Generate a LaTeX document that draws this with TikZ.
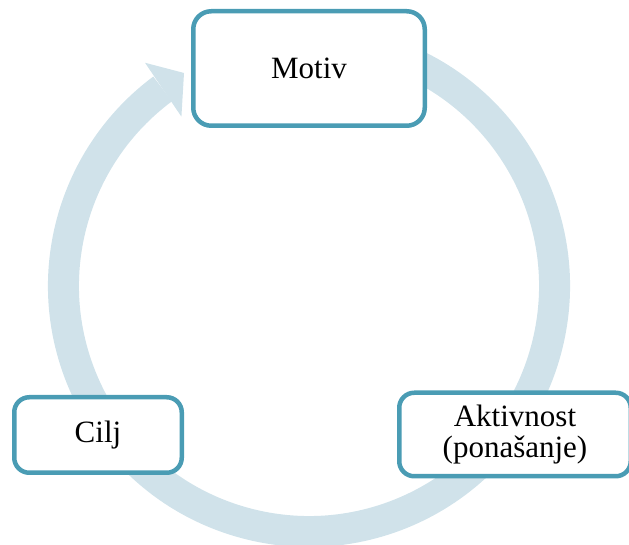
\documentclass[tikz,border=0pt]{standalone}
\usepackage{fontspec}
\setmainfont{Liberation Serif}
\newfontfamily\tnr{Liberation Serif}
\usetikzlibrary{calc}
\definecolor{boxline}{RGB}{74,156,180}
\definecolor{ringcol}{RGB}{208,226,234}
\begin{document}
\begin{tikzpicture}[x=1pt,y=1pt,
  box/.style={draw=boxline, line width=4.5pt, fill=white, rounded corners=15pt,
    align=center, inner sep=0pt, font=\tnr\fontsize{31}{31.7}\selectfont},
  ring/.style={draw=ringcol, line width=31pt},
  ringhead/.style={fill=ringcol}]
\useasboundingbox (0,0) rectangle (629,545);
\coordinate (c) at (309,259);
% cycle ring
\draw[ring] (c) ++(75:245.5) arc[start angle=75, end angle=-233.4, radius=245.5];
\fill[ringhead] ($(c)+(126.3:277)$) -- ($(c)+(120.4:247)$) -- ($(c)+(127:212)$) -- cycle;
% boxes
\node[box, minimum width=231.5pt, minimum height=114.5pt, rounded corners=18pt] (motiv) at (309,476.5) {Motiv};
\node[box, minimum width=231.5pt, minimum height=83.5pt] (akt) at (515,110.5) {Aktivnost\\(ponašanje)};
\node[box, minimum width=167.5pt, minimum height=75.5pt] (cilj) at (98,110) {\raisebox{-2.5pt}{Cilj}};
\end{tikzpicture}
\end{document}
